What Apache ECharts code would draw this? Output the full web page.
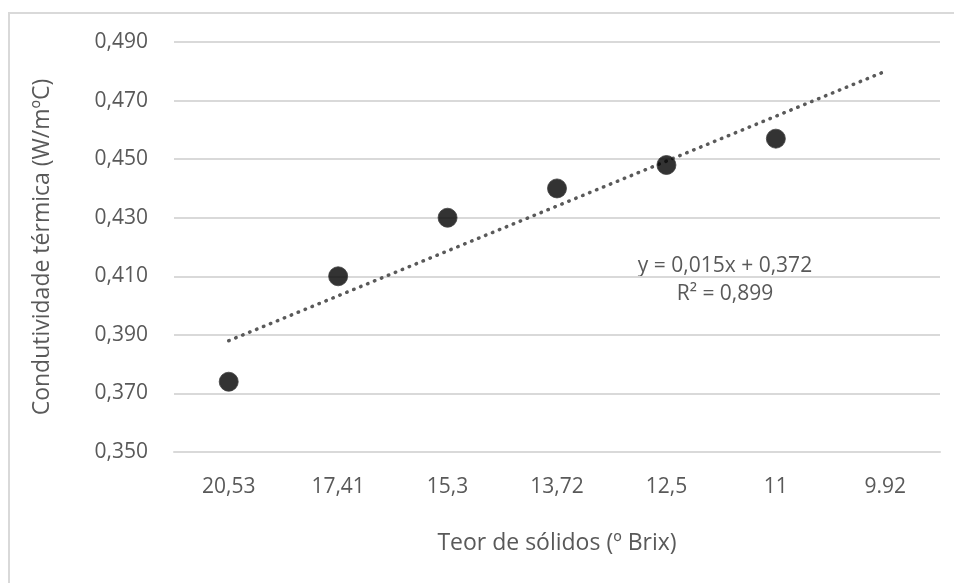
<!DOCTYPE html>
<html>
<head>
<meta charset="utf-8">
<script src="https://cdn.jsdelivr.net/npm/echarts@6/dist/echarts.min.js"></script>
<style>
html, body { margin: 0; padding: 0; background: #fff; }
#chart { width: 954px; height: 583px; }
</style>
</head>
<body>
<div id="chart"></div>
<script>
// dados
var categorias = ['20,53', '17,41', '15,3', '13,72', '12,5', '11', '9.92'];
var condutividade = [0.374, 0.410, 0.430, 0.440, 0.448, 0.457];
// extremos da linha de tendencia (primeira e ultima categoria)
var tendencia = [0.388, 0.480];
var equacao = ['y = 0,015x + 0,372', 'R² = 0,899'];

var corTexto = '#595959';
var fonte = '"Open Sans", sans-serif';

var myChart = echarts.init(document.getElementById('chart'));

var option = {
    animation: false,
    backgroundColor: '#fff',
    grid: {
        left: 174,
        right: 14,
        top: 42,
        bottom: 131
    },
    xAxis: {
        type: 'category',
        data: categorias,
        boundaryGap: true,
        name: 'Teor de sólidos (º Brix)',
        nameLocation: 'middle',
        nameGap: 80,
        nameTextStyle: { color: corTexto, fontSize: 23, fontFamily: fonte, verticalAlign: 'top' },
        axisLine: { show: true, lineStyle: { color: '#d9d9d9', width: 2 } },
        axisTick: { show: false },
        axisLabel: { color: corTexto, fontSize: 21, fontFamily: fonte, margin: 25 }
    },
    yAxis: {
        type: 'value',
        min: 0.35,
        max: 0.49,
        interval: 0.02,
        name: 'Condutividade térmica (W/mºC)',
        nameLocation: 'middle',
        nameGap: 120,
        nameTextStyle: { color: corTexto, fontSize: 23, fontFamily: fonte },
        axisLine: { show: false },
        axisTick: { show: false },
        splitLine: { lineStyle: { color: '#d9d9d9', width: 2 } },
        axisLabel: {
            color: corTexto, fontSize: 21, fontFamily: fonte, margin: 26,
            formatter: function (v) { return v.toFixed(3).replace('.', ','); }
        }
    },
    series: [
        {
            type: 'line',
            data: [[categorias[0], tendencia[0]], [categorias[categorias.length - 1], tendencia[1]]],
            symbol: 'none',
            silent: true,
            lineStyle: { color: '#595959', width: 3.5, type: [0.5, 7], cap: 'round' },
            z: 2
        },
        {
            type: 'scatter',
            data: condutividade,
            symbol: 'circle',
            symbolSize: 19,
            itemStyle: { color: '#000', borderColor: '#404040', borderWidth: 1 },
            z: 3
        }
    ],
    graphic: [
        {
            type: 'rect',
            shape: { x: 9, y: 13, width: 980, height: 620 },
            style: { fill: 'none', stroke: '#d9d9d9', lineWidth: 2 },
            silent: true,
            z: -1
        },
        {
            type: 'text',
            x: 725,
            y: 280,
            style: {
                text: equacao.join('\n'),
                fill: corTexto,
                font: '21px ' + fonte,
                align: 'center',
                verticalAlign: 'middle',
                lineHeight: 28
            }
        }
    ]
};

myChart.setOption(option);
window.addEventListener('resize', function () {
    myChart.resize();
});
</script>
</body>
</html>
